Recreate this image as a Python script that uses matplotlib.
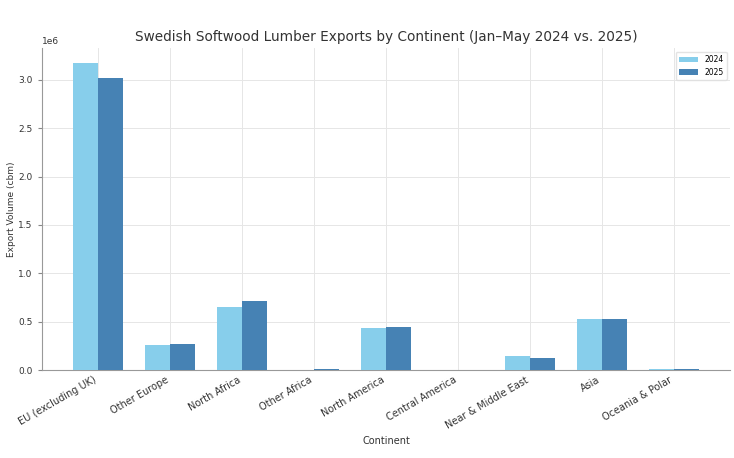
import numpy as np
from matplotlib import pyplot as plt

continents = ["EU (excluding UK)", "Other Europe", "North Africa", "Other Africa",
              "North America", "Central America", "Near & Middle East", "Asia",
              "Oceania & Polar"]
exports_2024 = [3.17e6, 0.26e6, 0.65e6, 0.004e6, 0.43e6, 0.002e6, 0.144e6, 0.53e6, 0.012e6]
exports_2025 = [3.02e6, 0.265e6, 0.71e6, 0.008e6, 0.45e6, 0.001e6, 0.127e6, 0.525e6, 0.016e6]
years = ["2024", "2025"]

fig = plt.figure(figsize=(7.34, 4.58), dpi=100)
ax = fig.add_axes([0.057, 0.192, 0.938, 0.703])

x = np.arange(len(continents))
w = 0.35
ax.bar(x - w / 2, exports_2024, w, color="#87CEEB", label=years[0], zorder=3)
ax.bar(x + w / 2, exports_2025, w, color="#4682B4", label=years[1], zorder=3)

ax.set_xticks(x)
ax.set_xticklabels(continents, rotation=30, ha="right", fontsize=7, color="#333333")
ax.tick_params(axis="y", labelsize=6.5, labelcolor="#333333", color="#888888", length=3)
ax.tick_params(axis="x", color="#888888", length=0)
ax.yaxis.get_offset_text().set_fontsize(6.5)

ax.grid(True, color="#e6e6e6", linewidth=0.7, zorder=0)
for side in ["top", "right"]:
    ax.spines[side].set_visible(False)
for side in ["left", "bottom"]:
    ax.spines[side].set_color("#999999")

ax.set_title("Swedish Softwood Lumber Exports by Continent (Jan\u2013May 2024 vs. 2025)",
             fontsize=9.8, color="#333333", pad=5)
ax.set_xlabel("Continent", fontsize=7, color="#333333")
ax.set_ylabel("Export Volume (cbm)", fontsize=6.5, color="#333333", labelpad=2)
ax.legend(fontsize=5.5, loc="upper right", frameon=True, edgecolor="#dddddd",
          handlelength=2.5)

plt.savefig("out.png", dpi=100)
